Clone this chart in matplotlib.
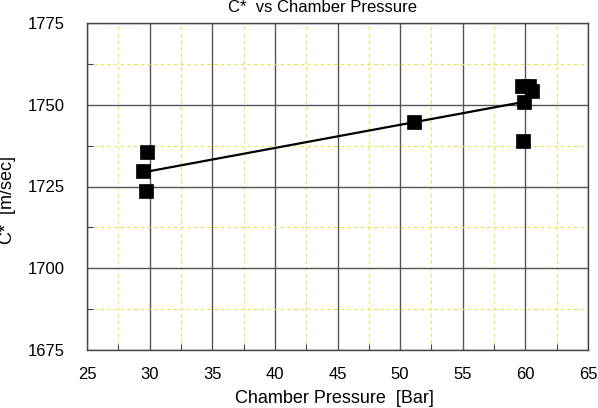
import matplotlib
matplotlib.use("Agg")
import matplotlib.pyplot as plt
from matplotlib.ticker import MultipleLocator

plt.rcParams['font.family'] = ['Liberation Sans', 'DejaVu Sans']

# data
pressure = [29.8, 29.5, 29.7, 51.1, 59.7, 60.3, 60.5, 59.9, 59.8]
cstar = [1735.6, 1729.7, 1723.6, 1744.7, 1755.6, 1755.6, 1754.2, 1750.8, 1738.9]
fit_x = [30.0, 59.5]
fit_y = [1729.7, 1750.6]

x_range = (25, 65)
y_range = (1675, 1775)

fig = plt.figure(figsize=(5.98, 4.08), dpi=100)
ax = fig.add_axes([87/598, 1-350/408, (588-87)/598, (350-23)/408])

ax.set_xlim(*x_range)
ax.set_ylim(*y_range)
ax.xaxis.set_major_locator(MultipleLocator(5))
ax.xaxis.set_minor_locator(MultipleLocator(2.5))
ax.yaxis.set_major_locator(MultipleLocator(25))
ax.yaxis.set_minor_locator(MultipleLocator(12.5))

ax.grid(which='minor', color='#e6e64a', linestyle=(0, (3, 3)), linewidth=0.8, zorder=0)
ax.grid(which='major', color='#555555', linestyle='-', linewidth=1.0, zorder=1)

ax.plot(fit_x, fit_y, color='black', linewidth=1.6, zorder=3)
ax.plot(pressure, cstar, linestyle='none', marker='s', markersize=9.5,
        markerfacecolor='black', markeredgecolor='black', markeredgewidth=0.5, zorder=4)

for s in ax.spines.values():
    s.set_color('#444444')
    s.set_linewidth(1.0)

ax.tick_params(which='both', direction='in', top=False, right=False, color='#444444')
ax.tick_params(which='major', length=0, labelsize=12)
ax.tick_params(which='minor', length=4, width=0.8)
ax.tick_params(axis='x', which='major', pad=12)
ax.tick_params(axis='y', which='major', pad=16)

ax.set_xlabel('Chamber Pressure  [Bar]', fontsize=13, va='top')
ax.xaxis.set_label_coords((334-87)/501, (350-390)/327)
ax.set_ylabel('C*  [m/sec]', fontsize=13)
ax.yaxis.set_label_coords((16-87)/501, (350-200)/327)
fig.text(322/598, 1-12/408, 'C*  vs Chamber Pressure', fontsize=12, ha='center', va='baseline')

fig.savefig('out.png', dpi=100)
